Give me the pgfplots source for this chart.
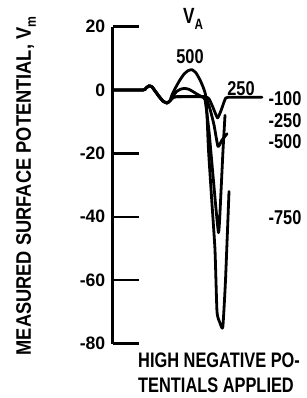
\documentclass[border=0pt]{standalone}
\usepackage{pgfplots}
\pgfplotsset{compat=1.18}
\usepackage{fontspec}
\setmainfont{Liberation Sans}
\newfontfamily\numf{Liberation Sans}[FakeStretch=0.98, UprightFont={* Bold}]
\newfontfamily\dlabf{Liberation Sans}[FakeStretch=0.82, UprightFont={* Bold}]
\newfontfamily\lblf{Liberation Sans}[FakeStretch=0.78, UprightFont={* Bold}]
\newfontfamily\ylf{Liberation Sans}[FakeStretch=0.87, UprightFont={* Bold}]
\begin{document}
\begin{tikzpicture}
\useasboundingbox (0,0) rectangle (306pt,-398pt);
\begin{axis}[
  at={(112.5pt,-343.6pt)}, anchor=south west,
  scale only axis, width=187.5pt, height=317pt,
  xmin=112.5, xmax=300, ymin=-80, ymax=20,
  axis x line=none, axis y line=left,
  axis line style={line width=2.6pt, -},
  ytick={-80,-60,-40,-20,0,20},
  yticklabels={-80,-60,-40,-20,0,20},
  tick align=inside,
  major tick length=26pt,
  ytick style={line width=2.4pt, black},
  yticklabel style={font=\numf\fontsize{18}{18}\selectfont, inner sep=0pt, xshift=-7pt},
  clip=false,
  curve/.style={black, line width=2.8pt, line join=round, line cap=round, smooth, tension=0.3, mark=none},
]
% -100
\addplot[curve] coordinates {(112.5,0) (143,0) (146,0.6) (149,1.3) (152,1.0) (155,-0.3) (159,-2.0) (163,-3.5) (167,-4.1) (170,-3.4)
 (173,-2.4) (177,-2.1) (190,-2.1) (205,-2.1) (209,-2.8) (213,-5.5) (217.5,-8.8) (221,-6.5) (225,-3) (228,-2.3) (262,-2.3)};
% -250
\addplot[curve] coordinates {(112.5,0) (143,0) (146,0.6) (149,1.3) (152,1.0) (155,-0.3) (159,-2.0) (163,-3.5) (167,-4.1) (170,-3.4)
 (173,-2.4) (177,-2.1) (200,-2.1) (206,-2.6) (210,-6) (214,-11) (218,-17.8) (222,-15.8) (227,-13.8)};
% 250 hump -> -500 dip
\addplot[curve] coordinates {(112.5,0) (143,0) (146,0.6) (149,1.3) (152,1.0) (155,-0.3) (159,-2.0) (163,-3.5) (167,-4.1) (170,-3.4)
 (173,-1.8) (177,-0.4) (181,0.3) (185,0.5) (189,0.2) (193,-0.5) (197,-1.3) (201,-2.0) (205,-3.0)
 (209,-13) (213,-27) (218.5,-45) (221,-32) (223,-19) (225,-8)};
% 500 hump -> -750 dip
\addplot[curve] coordinates {(112.5,0) (143,0) (146,0.6) (149,1.3) (152,1.0) (155,-0.3) (159,-2.0) (163,-3.5) (167,-4.1) (170,-3.4)
 (172,-1.5) (176,1.0) (180,3.2) (184,5.0) (188,6.1) (192,6.4) (196,5.4) (200,3.2) (203,1.0) (205.5,-1.5)
 (207,-8) (208.5,-19) (212,-36) (215,-50.5) (217,-70) (220,-73.5) (222.8,-74.8) (225.5,-60) (229,-32)};

\node[font=\lblf\fontsize{22}{22}\selectfont, inner sep=0pt] at (axis cs:193,22.4) {V\raisebox{-0.45ex}{\fontsize{15}{15}\selectfont A}};
\node[font=\dlabf\fontsize{20}{20}\selectfont, inner sep=0pt] at (axis cs:190,10.4) {500};
\node[font=\dlabf\fontsize{20}{20}\selectfont, inner sep=0pt] at (axis cs:241,0.3) {250};
\node[font=\dlabf\fontsize{20}{20}\selectfont, inner sep=0pt] at (axis cs:285,-2.8) {-100};
\node[font=\dlabf\fontsize{20}{20}\selectfont, inner sep=0pt] at (axis cs:285,-9.8) {-250};
\node[font=\dlabf\fontsize{20}{20}\selectfont, inner sep=0pt] at (axis cs:285,-16.4) {-500};
\node[font=\dlabf\fontsize{20}{20}\selectfont, inner sep=0pt] at (axis cs:285,-40.1) {-750};
\end{axis}
\node[font=\lblf\fontsize{21}{21}\selectfont, inner sep=0pt, anchor=west] at (138pt,-360.5pt) {HIGH NEGATIVE PO-};
\node[font=\lblf\fontsize{21}{21}\selectfont, inner sep=0pt, anchor=west] at (138pt,-385pt) {TENTIALS APPLIED};
\node[font=\ylf\fontsize{21}{21}\selectfont, inner sep=0pt, rotate=90] at (26pt,-186pt) {MEASURED SURFACE POTENTIAL, V\raisebox{-0.45ex}{\fontsize{14}{14}\selectfont m}};
\end{tikzpicture}
\end{document}
